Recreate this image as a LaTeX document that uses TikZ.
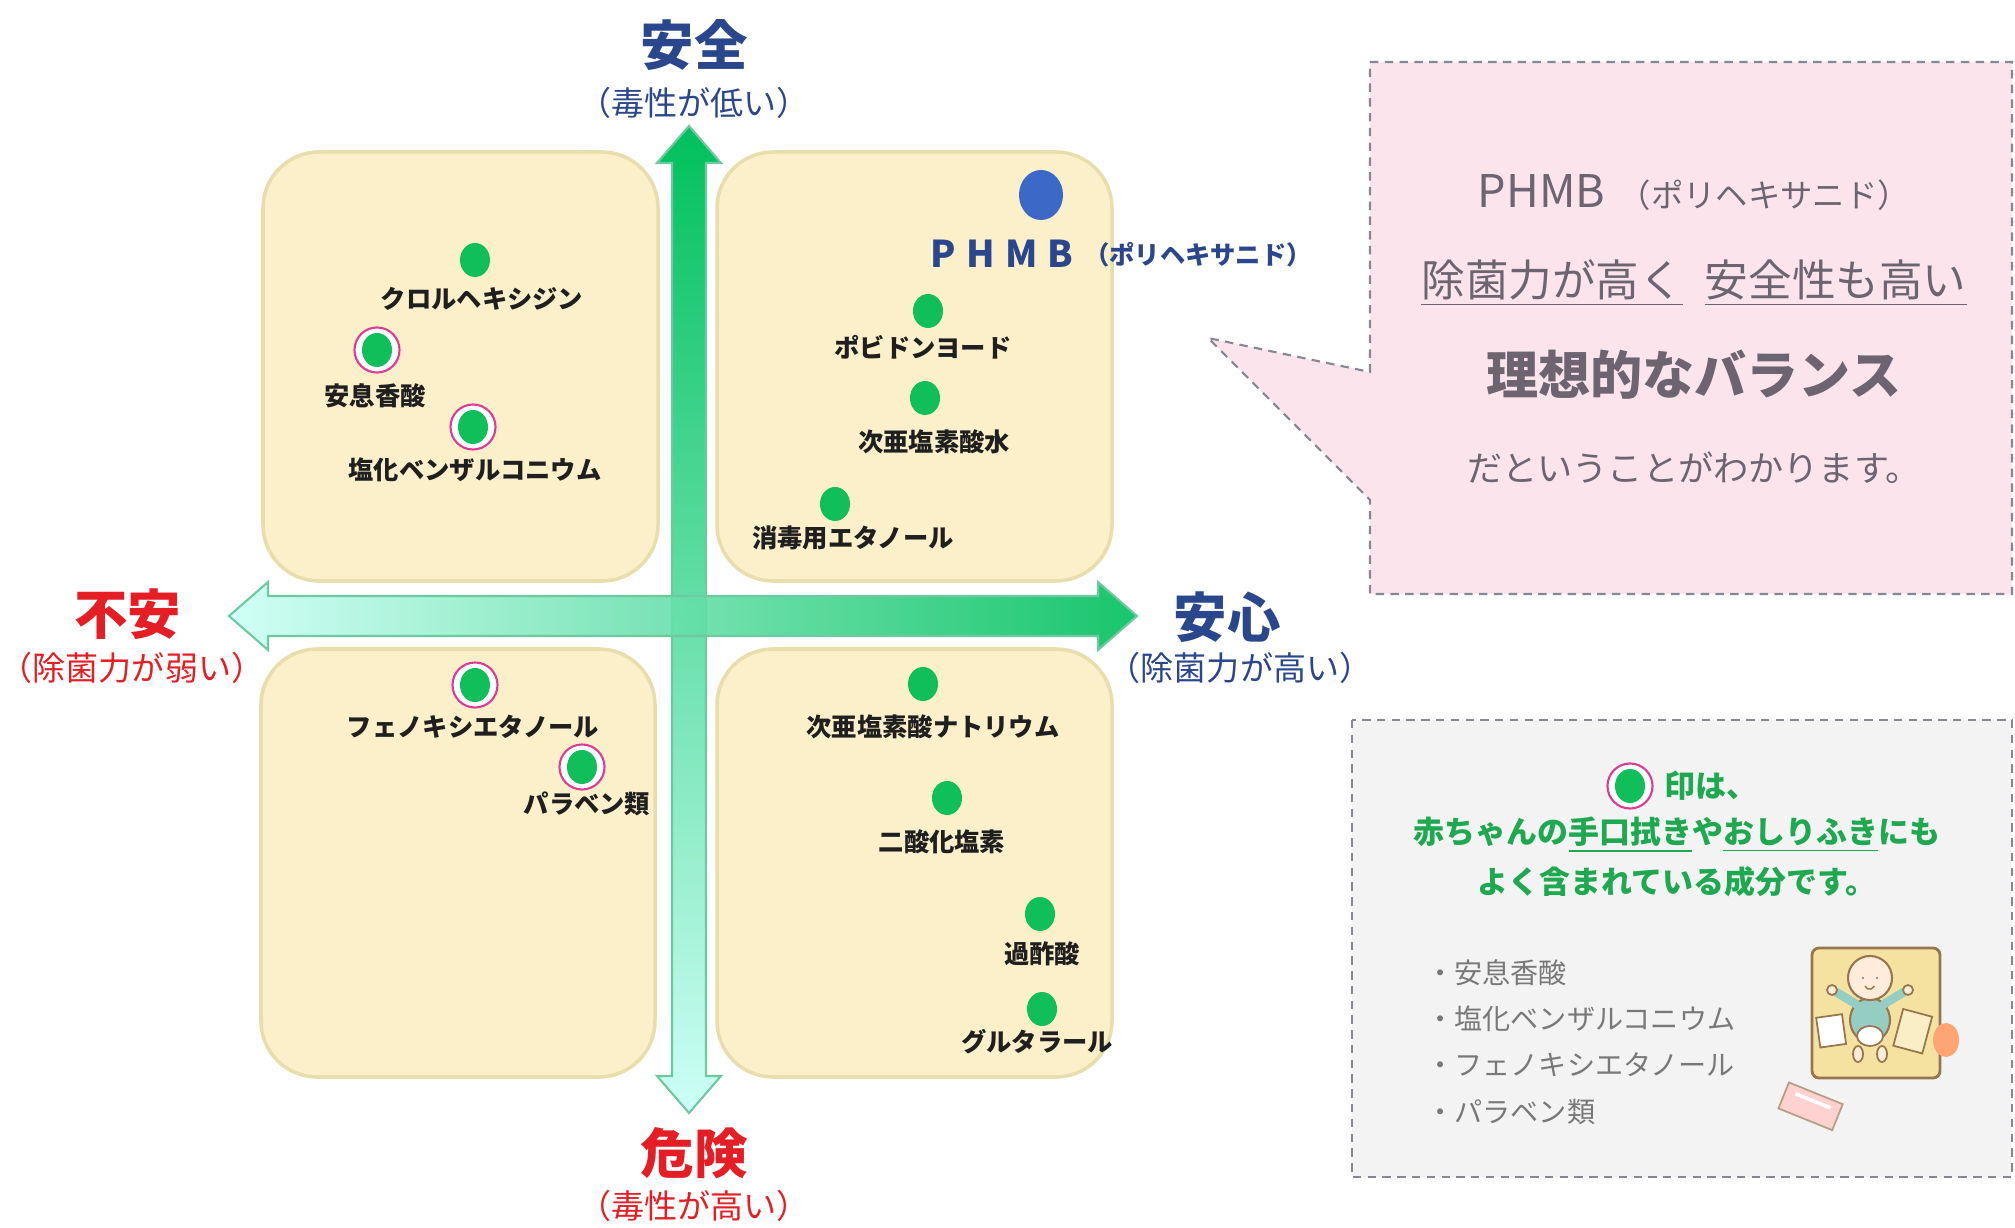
\documentclass[tikz,border=0pt]{standalone}
\usepackage{fontspec}
\setmainfont{Noto Sans CJK JP}
\usetikzlibrary{shapes.geometric}
\definecolor{axgreen}{RGB}{0,192,92}
\definecolor{axaqua}{RGB}{205,255,246}
\definecolor{axedge}{RGB}{110,200,160}
\definecolor{quadfill}{RGB}{252,240,202}
\definecolor{quadedge}{RGB}{232,222,172}
\definecolor{dotgreen}{RGB}{16,190,90}
\definecolor{ringpink}{RGB}{220,60,150}
\definecolor{navy}{RGB}{42,70,140}
\definecolor{alarm}{RGB}{228,30,36}
\definecolor{phmbblue}{RGB}{60,105,200}
\definecolor{pinkfill}{RGB}{252,228,237}
\definecolor{notefill}{RGB}{243,243,243}
\definecolor{dashgray}{RGB}{135,135,145}
\definecolor{boxtext}{RGB}{108,100,110}
\definecolor{listgray}{RGB}{120,120,120}
\definecolor{notegreen}{RGB}{30,168,80}
\definecolor{matyellow}{RGB}{246,226,160}
\definecolor{matbrown}{RGB}{150,118,78}
\definecolor{skin}{RGB}{255,236,218}
\definecolor{shirt}{RGB}{150,205,195}
\newcommand{\fs}[1]{\fontsize{#1}{#1}\selectfont}
% a plain dot with its name below
\newcommand{\agent}[4]{
	\node[chem] (#1) at (#2) {};
	\node[chemlabel] at (#3) {#4};
	}
% a dot with the pink ring (found in baby wipes)
\newcommand{\agentR}[4]{
	\node[ring] at (#2) {};
	\node[chem] (#1) at (#2) {};
	\node[chemlabel] at (#3) {#4};
	}

\begin{document}
\begin{tikzpicture}[
      x=0.01cm, y=-0.01cm, % pixel grid, y downwards
      quad/.style={fill=quadfill, draw=quadedge, line width=1pt, rounded corners=0.56cm},
      axis/.style={draw=axedge, line width=0.6pt},
      chem/.style={shape=ellipse, fill=dotgreen, inner sep=0pt, minimum width=0.3cm, minimum height=0.34cm},
      ring/.style={circle, fill=white, draw=ringpink, line width=0.6pt, inner sep=0pt, minimum size=0.45cm},
      chemlabel/.style={font=\fs{7.2}\bfseries, text=black!88},
      bigup/.style={font=\fs{15.2}\bfseries, text=navy},
      subup/.style={font=\fs{9.4}, text=navy},
      bigdown/.style={font=\fs{15.2}\bfseries, text=alarm},
      subdown/.style={font=\fs{9.4}, text=alarm},
      dashbox/.style={draw=dashgray, line width=0.6pt, dash pattern=on 2.4pt off 1.8pt},
      pinktext/.style={text=boxtext},
      greentext/.style={font=\fs{8.8}\bfseries, text=notegreen},
      listitem/.style={font=\fs{8}, text=listgray, anchor=west}
    ]
    \fill[white] (0,0) rectangle (2015,1228);
    \useasboundingbox (0,0) rectangle (2015,1228);

    % four quadrants
    \draw[quad] (263,152) rectangle (658,581);
    \draw[quad] (717,152) rectangle (1112,581);
    \draw[quad] (261,649) rectangle (655,1077);
    \draw[quad] (717,649) rectangle (1112,1077);

    % axes: toxicity (vertical) and disinfecting power (horizontal)
    \path[axis, top color=axgreen, bottom color=axaqua]
      (689,126) -- (721,163) -- (706,163) -- (706,1076) -- (721,1076) -- (689,1113)
      -- (657,1076) -- (672,1076) -- (672,163) -- (657,163) -- cycle;
    \path[axis, left color=axaqua, right color=axgreen, fill opacity=0.9]
      (229,616) -- (268,582) -- (268,596) -- (1098,596) -- (1098,582) -- (1137,616)
      -- (1098,650) -- (1098,636) -- (268,636) -- (268,650) -- cycle;

    % axis labels
    \node[bigup] (safe) at (694,45) {安全};
    \node[subup] at (694,103) {（毒性が低い）};
    \node[bigdown] (unsafe) at (128,614) {不安};
    \node[subdown] at (132,668) {（除菌力が弱い）};
    \node[bigup] (secure) at (1227,617) {安心};
    \node[subup] at (1240,668) {（除菌力が高い）};
    \node[bigdown] (danger) at (694,1153) {危険};
    \node[subdown] at (694,1206) {（毒性が高い）};

    % upper left
    \agent{chx}{475,260}{482,299}{クロルヘキシジン};
    \agentR{benz}{377,350}{375,396}{安息香酸};
    \agentR{bac}{473,427}{475,470}{塩化ベンザルコニウム};
    % upper right
    \node[shape=ellipse, fill=phmbblue, inner sep=0pt, minimum width=0.44cm, minimum height=0.5cm] (phmb) at (1041,195) {};
    \node[font=\fs{10.5}\bfseries, text=navy] at (1002,254) {P\hspace{0.28em}H\hspace{0.28em}M\hspace{0.28em}B};
    \node[font=\fs{7.2}\bfseries, text=navy] at (1198,255) {（ポリヘキサニド）};
    \agent{pvp}{928,311}{923,347}{ポビドンヨード};
    \agent{hocl}{925,398}{934,442}{次亜塩素酸水};
    \agent{etoh}{835,504}{853,538}{消毒用エタノール};
    % lower left
    \agentR{phe}{475,685}{473,727}{フェノキシエタノール};
    \agentR{par}{582,767}{587,804}{パラベン類};
    % lower right
    \agent{naocl}{923,684}{933,727}{次亜塩素酸ナトリウム};
    \agent{clo}{947,798}{942,842}{二酸化塩素};
    \agent{paa}{1040,914}{1042,954}{過酢酸};
    \agent{glu}{1042,1009}{1037,1042}{グルタラール};

    % callout box
    \draw[dashbox, fill=pinkfill] (1370,62) -- (2012,62) -- (2012,594) -- (1370,594)
      -- (1370,500) -- (1208,338) -- (1370,372) -- cycle;
    \node[pinktext, font=\fs{12.8}] (c1) at (1694,193) {PHMB\hspace{0.3em}{\fs{9.2}（ポリヘキサニド）}};
    \node[pinktext, font=\fs{12.4}] (c2) at (1694,283) {\underline{除菌力が高く}\hspace{0.5em}\underline{安全性も高い}};
    \node[pinktext, font=\fs{14.8}\bfseries] (c3) at (1694,375) {理想的なバランス};
    \node[pinktext, font=\fs{10}] (c4) at (1694,468) {だということがわかります。};

    % note box
    \draw[dashbox, fill=notefill] (1352,720) rectangle (2012,1177);
    \node[ring] at (1630,786) {};
    \node[chem] (mark) at (1630,786) {};
    \node[greentext, anchor=west] at (1652,786) {印は、};
    \node[greentext] at (1677,835) {赤ちゃんの\underline{手口拭き}や\underline{おしりふき}にも};
    \node[greentext] at (1677,882) {よく含まれている成分です。};
    \node[listitem] at (1414,973) {・安息香酸};
    \node[listitem] at (1414,1019) {・塩化ベンザルコニウム};
    \node[listitem] at (1414,1065) {・フェノキシエタノール};
    \node[listitem] at (1414,1112) {・パラベン類};

    % baby on a changing mat
    \draw[fill=matyellow, draw=matbrown, line width=0.8pt, rounded corners=2pt] (1812,948) rectangle (1940,1078);
    \draw[fill=shirt, draw=matbrown, line width=0.6pt] (1870,1020) ellipse [x radius=0.2cm, y radius=0.22cm];
    \draw[shirt, line width=2.5pt, line cap=round] (1856,1004) -- (1836,992);
    \draw[shirt, line width=2.5pt, line cap=round] (1884,1004) -- (1904,992);
    \draw[fill=skin, draw=matbrown, line width=0.5pt] (1832,990) circle (0.05cm);
    \draw[fill=skin, draw=matbrown, line width=0.5pt] (1908,990) circle (0.05cm);
    \draw[fill=white, draw=matbrown, line width=0.5pt] (1870,1036) ellipse [x radius=0.13cm, y radius=0.1cm];
    \draw[fill=skin, draw=matbrown, line width=0.5pt] (1858,1054) ellipse [x radius=0.05cm, y radius=0.08cm];
    \draw[fill=skin, draw=matbrown, line width=0.5pt] (1882,1054) ellipse [x radius=0.05cm, y radius=0.08cm];
    \draw[fill=skin, draw=matbrown, line width=0.6pt] (1870,978) circle (0.22cm);
    \fill[matbrown] (1863,978) circle (0.012cm) (1877,978) circle (0.012cm);
    \draw[matbrown, line width=0.4pt] (1865,986) arc[start angle=200, end angle=340, radius=0.05cm];
    \draw[fill=white, draw=matbrown, line width=0.5pt, rotate around={8:(1830,1030)}] (1818,1016) rectangle (1844,1046);
    \draw[fill=matyellow!60, draw=matbrown, line width=0.5pt, rotate around={-15:(1912,1030)}] (1898,1012) rectangle (1928,1050);
    \fill[orange!70!red!55] (1946,1040) ellipse [x radius=0.13cm, y radius=0.17cm];
    \draw[fill=pink!80!red!45, draw=matbrown!70, line width=0.5pt, rotate around={-22:(1810,1105)}] (1782,1092) rectangle (1840,1120);
    \draw[white, line width=1pt, rotate around={-22:(1810,1105)}] (1792,1100) -- (1830,1100);
\end{tikzpicture}
\end{document}
